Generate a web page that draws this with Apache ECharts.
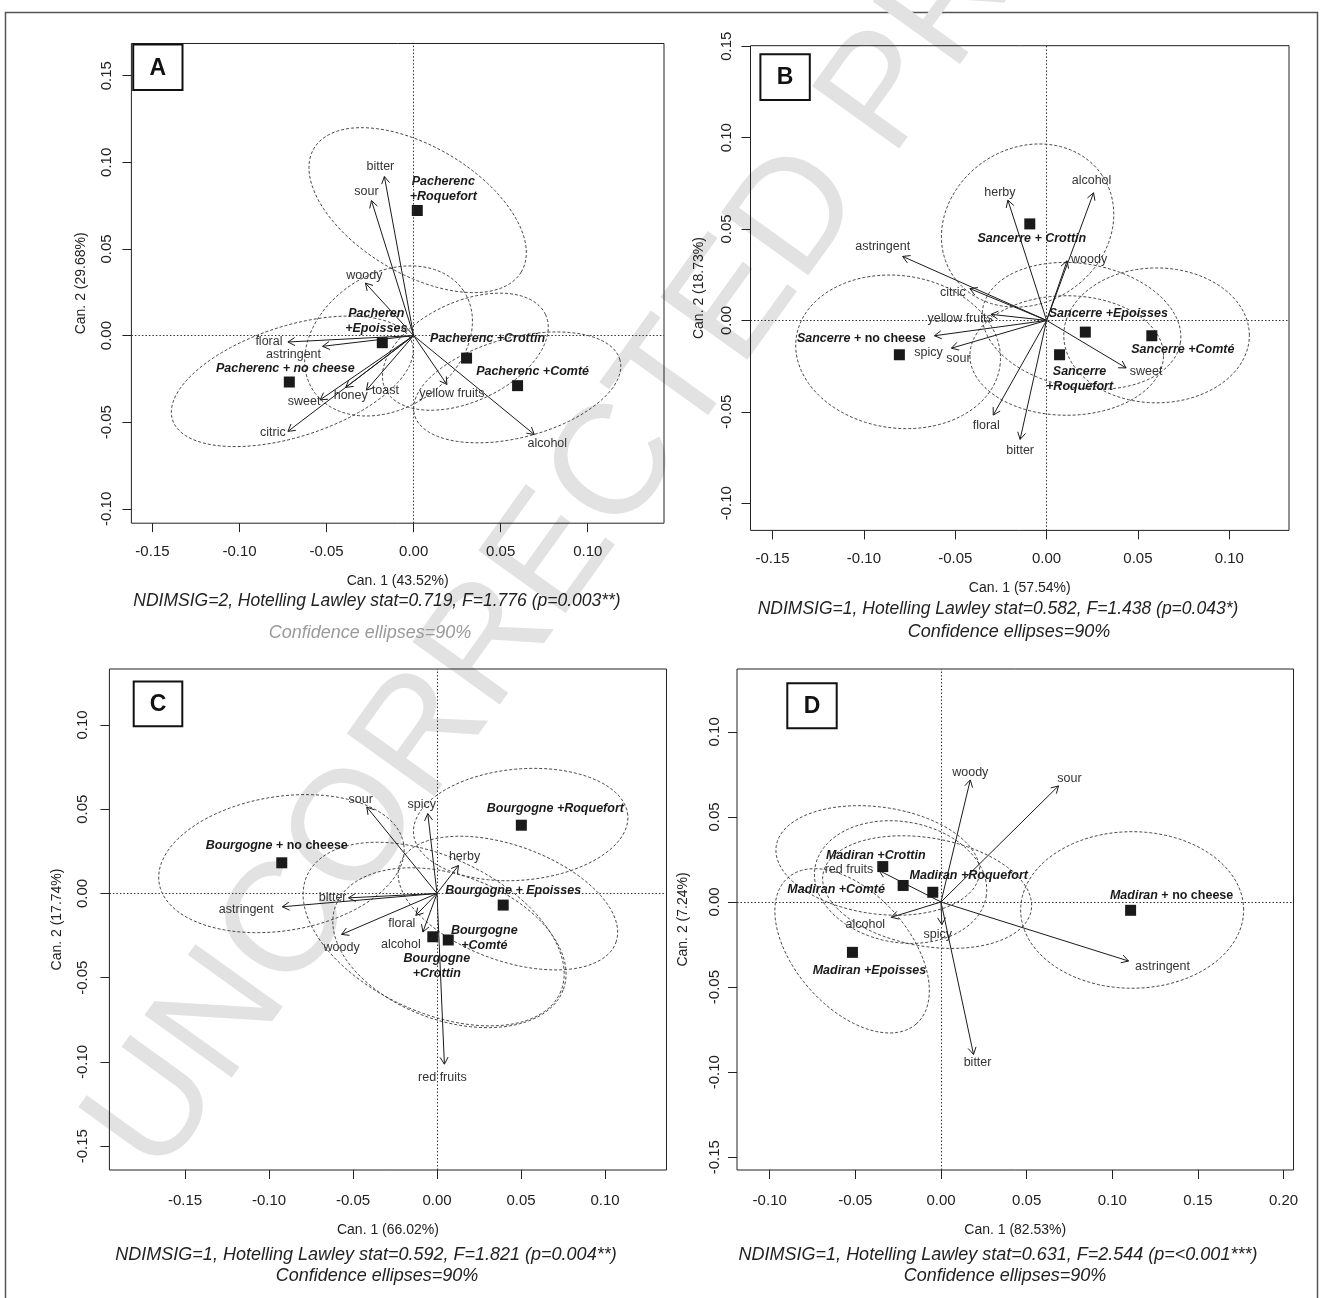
<!DOCTYPE html>
<html>
<head>
<meta charset="utf-8">
<title>Wine and cheese canonical variate maps</title>
<script src="https://cdn.jsdelivr.net/npm/echarts@6/dist/echarts.min.js"></script>
<style>
  html, body { margin: 0; padding: 0; background: #fff; }
  #app { width: 1322px; height: 1298px; }
</style>
</head>
<body>
<div id="app"></div>
<script>
// ---------- Panel A : Pacherenc ----------
const aAttrNames = ['bitter', 'sour', 'woody', 'floral', 'astringent', 'sweet', 'citric', 'honey', 'toast', 'yellow fruits', 'alcohol'];
const aAttrX = [-0.0168, -0.0242, -0.0277, -0.0722, -0.0523, -0.0537, -0.0722, -0.0390, -0.0271, 0.0191, 0.0693];
const aAttrY = [0.0918, 0.0779, 0.0303, -0.0037, -0.0062, -0.0371, -0.0553, -0.0299, -0.0315, -0.0282, -0.0571];
const aGroupNames = ['Pacherenc\n+Roquefort', 'Pacheren\n+Epoisses', 'Pacherenc +Crottin', 'Pacherenc +Comté', 'Pacherenc + no cheese'];
const aGroupX = [0.0021, -0.0180, 0.0304, 0.0597, -0.0714];
const aGroupY = [0.0722, -0.0041, -0.0130, -0.0289, -0.0268];
// confidence ellipses: centre x, centre y, semi-axis a, semi-axis b, angle (deg)
const aEllipses = [
  [0.0023, 0.0724, 0.0694, 0.0367, -31],
  [-0.0144, -0.0031, 0.0519, 0.0388, 34],
  [0.0297, -0.0093, 0.0508, 0.0288, 25],
  [0.0595, -0.0299, 0.0611, 0.0288, 15],
  [-0.0697, -0.0264, 0.0723, 0.0319, 18]
];
const aTicksX = [-0.15, -0.10, -0.05, 0, 0.05, 0.10];
const aTicksY = [-0.10, -0.05, 0, 0.05, 0.10, 0.15];

// ---------- Panel B : Sancerre ----------
const bAttrNames = ['herby', 'alcohol', 'woody', 'astringent', 'citric', 'yellow fruits', 'spicy', 'sour', 'floral', 'bitter', 'sweet'];
const bAttrX = [-0.0212, 0.0257, 0.0112, -0.0788, -0.0420, -0.0304, -0.0614, -0.0521, -0.0292, -0.0145, 0.0435];
const bAttrY = [0.0658, 0.0698, 0.0326, 0.0350, 0.0174, 0.0033, -0.0084, -0.0152, -0.0518, -0.0651, -0.0260];
const bGroupNames = ['Sancerre + Crottin', 'Sancerre +Epoisses', 'Sancerre +Comté', 'Sancerre\n+Roquefort', 'Sancerre + no cheese'];
const bGroupX = [-0.0092, 0.0212, 0.0576, 0.0071, -0.0806];
const bGroupY = [0.0528, -0.0064, -0.0084, -0.0188, -0.0188];
const bEllipses = [
  [-0.0104, 0.0519, 0.0492, 0.0424, 34],
  [-0.0813, -0.0172, 0.0563, 0.0417, -8],
  [0.0191, -0.0030, 0.0549, 0.0339, -10],
  [0.0110, -0.0192, 0.0530, 0.0327, 0],
  [0.0602, -0.0082, 0.0508, 0.0369, 0]
];
const bTicksX = [-0.15, -0.10, -0.05, 0, 0.05, 0.10];
const bTicksY = [-0.10, -0.05, 0, 0.05, 0.10, 0.15];

// ---------- Panel C : Bourgogne ----------
const cAttrNames = ['sour', 'spicy', 'herby', 'bitter', 'astringent', 'woody', 'floral', 'alcohol', 'red fruits'];
const cAttrX = [-0.0418, -0.0055, 0.0128, -0.0526, -0.0921, -0.0568, -0.0126, -0.0084, 0.0044];
const cAttrY = [0.0513, 0.0474, 0.0166, -0.0026, -0.0079, -0.0243, -0.0130, -0.0229, -0.1013];
const cGroupNames = ['Bourgogne +Roquefort', 'Bourgogne + no cheese', 'Bourgogne + Epoisses', 'Bourgogne\n+Comté', 'Bourgogne\n+Crottin'];
const cGroupX = [0.0502, -0.0924, 0.0394, 0.0067, -0.0025];
const cGroupY = [0.0405, 0.0182, -0.0069, -0.0276, -0.0257];
const cEllipses = [
  [0.0498, 0.0409, 0.0640, 0.0330, 5],
  [-0.0926, 0.0177, 0.0737, 0.0398, 9],
  [0.0422, -0.0057, 0.0684, 0.0341, -20],
  [0.0074, -0.0322, 0.0722, 0.0431, -20],
  [-0.0020, -0.0241, 0.0830, 0.0460, -25]
];
const cTicksX = [-0.15, -0.10, -0.05, 0, 0.05, 0.10];
const cTicksY = [-0.15, -0.10, -0.05, 0, 0.05, 0.10];

// ---------- Panel D : Madiran ----------
const dAttrNames = ['woody', 'sour', 'red fruits', 'alcohol', 'spicy', 'bitter', 'astringent'];
const dAttrX = [0.0171, 0.0686, -0.0362, -0.0290, 0.0005, 0.0190, 0.1095];
const dAttrY = [0.0717, 0.0682, 0.0185, -0.0090, -0.0133, -0.0896, -0.0347];
const dGroupNames = ['Madiran +Crottin', 'Madiran +Comté', 'Madiran +Roquefort', 'Madiran +Epoisses', 'Madiran + no cheese'];
const dGroupX = [-0.0340, -0.0221, -0.0048, -0.0517, 0.1107];
const dGroupY = [0.0208, 0.0097, 0.0057, -0.0296, -0.0049];
const dEllipses = [
  [-0.0369, 0.0244, 0.0599, 0.0314, -8],
  [-0.0236, 0.0117, 0.0507, 0.0355, -10],
  [-0.0081, 0.0058, 0.0617, 0.0318, -10],
  [-0.0519, -0.0287, 0.0570, 0.0334, -49],
  [0.1116, -0.0047, 0.0651, 0.0460, 0]
];
const dTicksX = [-0.10, -0.05, 0, 0.05, 0.10, 0.15, 0.20];
const dTicksY = [-0.15, -0.10, -0.05, 0, 0.05, 0.10];

// ---------- label placement (pixel offsets from the mark) ----------
const aAttrLabelOffset = [[-4, -10], [-5, -9], [-1, -8], [-19, 0], [-29, 8], [-16, 2], [-15, 1], [5, 8], [19, 0], [5, 9], [13, 9]];
const aGroupLabelOffset = [[26, -21], [-6, -22], [21, -20], [15, -14], [-4, -13]];
const bAttrLabelOffset = [[-8, -8], [-2, -12], [22, -1], [-20, -10], [-17, 4], [-31, 4], [-6, 17], [7, 10], [-7, 10], [0, 11], [20, 4]];
const bGroupLabelOffset = [[2, 15], [23, -19], [31, 14], [20, 24], [-38, -16]];
const cAttrLabelOffset = [[-6, -7], [-6, -9], [6, -9], [-16, 0], [-36, 3], [0, 13], [-14, 8], [-22, 12], [-2, 13]];
const cGroupLabelOffset = [[34, -17], [-5, -17], [10, -15], [36, -2], [4, 29]];
const dAttrLabelOffset = [[0, -7], [11, -7], [-30, -1], [-26, 7], [-4, 10], [4, 8], [34, 6]];
const dGroupLabelOffset = [[-7, -11], [-67, 4], [36, -17], [17, 18], [41, -15]];

const FONT = '"Liberation Sans", Arial, Helvetica, sans-serif';

const panels = [
  {
    letter: 'A', attrNames: aAttrNames, attrX: aAttrX, attrY: aAttrY, attrOff: aAttrLabelOffset,
    groupNames: aGroupNames, groupX: aGroupX, groupY: aGroupY, groupOff: aGroupLabelOffset, uprightNoCheese: false,
    ellipses: aEllipses, ticksX: aTicksX, ticksY: aTicksY,
    box: [131.4, 43.5, 532.6, 479.7], xRange: [-0.1621, 0.1438], yRange: [-0.1083, 0.1686],
    xName: 'Can. 1 (43.52%)', yName: 'Can. 2 (29.68%)', xNameGap: 51, yNameGap: 43, xMargin: 21, yMargin: 17,
    letterBox: [133.2, 44.6, 49.3, 45.4],
    stat: 'NDIMSIG=2, Hotelling Lawley stat=0.719, F=1.776 (p=0.003**)', statPos: [377, 601], statSize: 17.5,
    conf: 'Confidence ellipses=90%', confPos: [370, 633], confColor: '#9a9a9a'
  },
  {
    letter: 'B', attrNames: bAttrNames, attrX: bAttrX, attrY: bAttrY, attrOff: bAttrLabelOffset,
    groupNames: bGroupNames, groupX: bGroupX, groupY: bGroupY, groupOff: bGroupLabelOffset, uprightNoCheese: true,
    ellipses: bEllipses, ticksX: bTicksX, ticksY: bTicksY,
    box: [750.5, 45.7, 538.5, 484.7], xRange: [-0.1621, 0.1327], yRange: [-0.1149, 0.1503],
    xName: 'Can. 1 (57.54%)', yName: 'Can. 2 (18.73%)', xNameGap: 51, yNameGap: 44, xMargin: 21, yMargin: 16,
    letterBox: [760.4, 54.3, 49.4, 45.7],
    stat: 'NDIMSIG=1, Hotelling Lawley stat=0.582, F=1.438 (p=0.043*)', statPos: [998, 609], statSize: 17.5,
    conf: 'Confidence ellipses=90%', confPos: [1009, 632], confColor: '#222'
  },
  {
    letter: 'C', attrNames: cAttrNames, attrX: cAttrX, attrY: cAttrY, attrOff: cAttrLabelOffset,
    groupNames: cGroupNames, groupX: cGroupX, groupY: cGroupY, groupOff: cGroupLabelOffset, uprightNoCheese: true,
    ellipses: cEllipses, ticksX: cTicksX, ticksY: cTicksY,
    box: [109.4, 669, 557.1, 501], xRange: [-0.1950, 0.1366], yRange: [-0.1641, 0.1332],
    xName: 'Can. 1 (66.02%)', yName: 'Can. 2 (17.74%)', xNameGap: 53, yNameGap: 45, xMargin: 23, yMargin: 19,
    letterBox: [133.7, 681.5, 48.6, 44.8],
    stat: 'NDIMSIG=1, Hotelling Lawley stat=0.592, F=1.821 (p=0.004**)', statPos: [366, 1255], statSize: 18,
    conf: 'Confidence ellipses=90%', confPos: [377, 1276], confColor: '#222'
  },
  {
    letter: 'D', attrNames: dAttrNames, attrX: dAttrX, attrY: dAttrY, attrOff: dAttrLabelOffset,
    groupNames: dGroupNames, groupX: dGroupX, groupY: dGroupY, groupOff: dGroupLabelOffset, uprightNoCheese: true,
    ellipses: dEllipses, ticksX: dTicksX, ticksY: dTicksY,
    box: [737, 669, 556.5, 501], xRange: [-0.1191, 0.2058], yRange: [-0.1575, 0.1369],
    xName: 'Can. 1 (82.53%)', yName: 'Can. 2 (7.24%)', xNameGap: 53, yNameGap: 47, xMargin: 23, yMargin: 15,
    letterBox: [787.3, 683.2, 49.4, 45.1],
    stat: 'NDIMSIG=1, Hotelling Lawley stat=0.631, F=2.544 (p=<0.001***)', statPos: [998, 1255], statSize: 18,
    conf: 'Confidence ellipses=90%', confPos: [1005, 1276], confColor: '#222'
  }
];

const fmt = v => v.toFixed(2);

// dashed confidence ellipse
function renderEllipse(params, api) {
  const cx = api.value(0), cy = api.value(1), a = api.value(2), b = api.value(3);
  const t = api.value(4) * Math.PI / 180;
  const pts = [];
  for (let k = 0; k < 144; k++) {
    const u = k / 144 * Math.PI * 2;
    const ex = a * Math.cos(u), ey = b * Math.sin(u);
    pts.push(api.coord([cx + ex * Math.cos(t) - ey * Math.sin(t), cy + ex * Math.sin(t) + ey * Math.cos(t)]));
  }
  return {
    type: 'polygon', shape: { points: pts }, silent: true,
    style: { fill: 'none', stroke: '#333', lineWidth: 0.9, lineDash: [3, 2] }
  };
}

// attribute vector from origin with open arrow head
function arrowRenderer(names, offsets) {
  return function (params, api) {
    const o = api.coord([0, 0]);
    const p = api.coord([api.value(0), api.value(1)]);
    const ang = Math.atan2(p[1] - o[1], p[0] - o[0]);
    const hl = 8, ha = Math.PI / 6;
    const h1 = [p[0] - hl * Math.cos(ang - ha), p[1] - hl * Math.sin(ang - ha)];
    const h2 = [p[0] - hl * Math.cos(ang + ha), p[1] - hl * Math.sin(ang + ha)];
    const off = offsets[params.dataIndex];
    return {
      type: 'group', silent: true, children: [
        { type: 'line', shape: { x1: o[0], y1: o[1], x2: p[0], y2: p[1] }, style: { stroke: '#1a1a1a', lineWidth: 1 } },
        { type: 'polyline', shape: { points: [h1, p, h2] }, style: { stroke: '#1a1a1a', lineWidth: 1, fill: 'none' } },
        {
          type: 'text', x: p[0] + off[0], y: p[1] + off[1],
          style: { text: names[params.dataIndex], fill: '#333', fontSize: 12.5, fontFamily: FONT, align: 'center', verticalAlign: 'middle' }
        }
      ]
    };
  };
}

// group mean: black square plus bold label
function pointRenderer(names, offsets, uprightNoCheese) {
  return function (params, api) {
    const p = api.coord([api.value(0), api.value(1)]);
    const off = offsets[params.dataIndex];
    const name = names[params.dataIndex];
    let text;
    if (uprightNoCheese && name.indexOf(' + no cheese') > 0) {
      text = '{i|' + name.replace(' + no cheese', '') + '}{u| + no cheese}';
    } else {
      text = name.split('\n').map(s => '{i|' + s + '}').join('\n');
    }
    return {
      type: 'group', silent: true, children: [
        { type: 'rect', shape: { x: p[0] - 5.5, y: p[1] - 5.5, width: 11, height: 11 }, style: { fill: '#1a1a1a' } },
        {
          type: 'text', x: p[0] + off[0], y: p[1] + off[1],
          style: {
            text: text, align: 'center', verticalAlign: 'middle', fill: '#1a1a1a',
            rich: {
              i: { fontSize: 12.5, fontFamily: FONT, fontStyle: 'italic', fontWeight: 'bold', fill: '#1a1a1a', lineHeight: 15 },
              u: { fontSize: 12.5, fontFamily: FONT, fontWeight: 'bold', fill: '#1a1a1a', lineHeight: 15 }
            }
          }
        }
      ]
    };
  };
}

const grids = [], xAxes = [], yAxes = [], series = [], graphics = [];

// page frame and watermark
graphics.push({
  type: 'rect', z: -20, silent: true,
  shape: { x: 5.5, y: 12.5, width: 1312, height: 1300 },
  style: { fill: 'none', stroke: '#555', lineWidth: 1.5 }
});
graphics.push({
  type: 'text', z: -10, silent: true, x: 652, y: 419, rotation: 54.3 * Math.PI / 180,
  style: { text: 'UNCORRECTED PROOF', fontSize: 156, fontFamily: FONT, fill: '#e2e2e2', align: 'center', verticalAlign: 'middle' }
});

panels.forEach(function (pn, i) {
  grids.push({
    left: pn.box[0], top: pn.box[1], width: pn.box[2], height: pn.box[3],
    show: true, borderColor: '#222', borderWidth: 1, backgroundColor: 'transparent'
  });
  xAxes.push({
    type: 'value', gridIndex: i, min: pn.xRange[0], max: pn.xRange[1], position: 'bottom',
    axisLine: { show: false, onZero: false }, splitLine: { show: false },
    axisTick: { show: true, length: 9, customValues: pn.ticksX, lineStyle: { color: '#222' } },
    axisLabel: { customValues: pn.ticksX, formatter: fmt, margin: pn.xMargin, fontSize: 15, color: '#222', fontFamily: FONT },
    name: pn.xName, nameLocation: 'middle', nameGap: pn.xNameGap,
    nameTextStyle: { fontSize: 14, color: '#222', fontFamily: FONT }
  });
  yAxes.push({
    type: 'value', gridIndex: i, min: pn.yRange[0], max: pn.yRange[1], position: 'left',
    axisLine: { show: false, onZero: false }, splitLine: { show: false },
    axisTick: { show: true, length: 9, customValues: pn.ticksY, lineStyle: { color: '#222' } },
    axisLabel: { customValues: pn.ticksY, formatter: fmt, rotate: 90, margin: pn.yMargin, fontSize: 15, color: '#222', fontFamily: FONT },
    name: pn.yName, nameLocation: 'middle', nameGap: pn.yNameGap,
    nameTextStyle: { fontSize: 14, color: '#222', fontFamily: FONT }
  });

  // zero reference lines
  series.push({
    type: 'scatter', xAxisIndex: i, yAxisIndex: i, data: [], silent: true,
    markLine: {
      silent: true, symbol: ['none', 'none'], label: { show: false },
      lineStyle: { color: '#333', width: 1, type: [1.5, 2] },
      emphasis: { disabled: true },
      data: [{ xAxis: 0 }, { yAxis: 0 }]
    }
  });
  series.push({
    type: 'custom', xAxisIndex: i, yAxisIndex: i,
    dimensions: ['cx', 'cy', 'a', 'b', 'angle'], encode: { x: 0, y: 1 },
    data: pn.ellipses, renderItem: renderEllipse, silent: true
  });
  series.push({
    type: 'custom', xAxisIndex: i, yAxisIndex: i,
    data: pn.attrX.map((x, k) => [x, pn.attrY[k]]),
    renderItem: arrowRenderer(pn.attrNames, pn.attrOff), silent: true
  });
  series.push({
    type: 'custom', xAxisIndex: i, yAxisIndex: i,
    data: pn.groupX.map((x, k) => [x, pn.groupY[k]]),
    renderItem: pointRenderer(pn.groupNames, pn.groupOff, pn.uprightNoCheese), silent: true
  });

  // panel letter box
  graphics.push({
    type: 'rect', z: 100, silent: true,
    shape: { x: pn.letterBox[0], y: pn.letterBox[1], width: pn.letterBox[2], height: pn.letterBox[3] },
    style: { fill: '#fff', stroke: '#111', lineWidth: 2 }
  });
  graphics.push({
    type: 'text', z: 101, silent: true,
    x: pn.letterBox[0] + pn.letterBox[2] / 2, y: pn.letterBox[1] + pn.letterBox[3] / 2 + 1,
    style: { text: pn.letter, fontSize: 23, fontWeight: 'bold', fontFamily: FONT, fill: '#111', align: 'center', verticalAlign: 'middle' }
  });
  // statistics lines under the panel
  graphics.push({
    type: 'text', z: 100, silent: true, x: pn.statPos[0], y: pn.statPos[1],
    style: { text: pn.stat, fontSize: pn.statSize, fontStyle: 'italic', fontFamily: FONT, fill: '#222', align: 'center', verticalAlign: 'middle' }
  });
  graphics.push({
    type: 'text', z: 100, silent: true, x: pn.confPos[0], y: pn.confPos[1],
    style: { text: pn.conf, fontSize: 18, fontStyle: 'italic', fontFamily: FONT, fill: pn.confColor, align: 'center', verticalAlign: 'middle' }
  });
});

const chart = echarts.init(document.getElementById('app'), null, { renderer: 'canvas' });
chart.setOption({
  backgroundColor: '#fff',
  animation: false,
  grid: grids,
  xAxis: xAxes,
  yAxis: yAxes,
  series: series,
  graphic: { elements: graphics }
});
</script>
</body>
</html>
